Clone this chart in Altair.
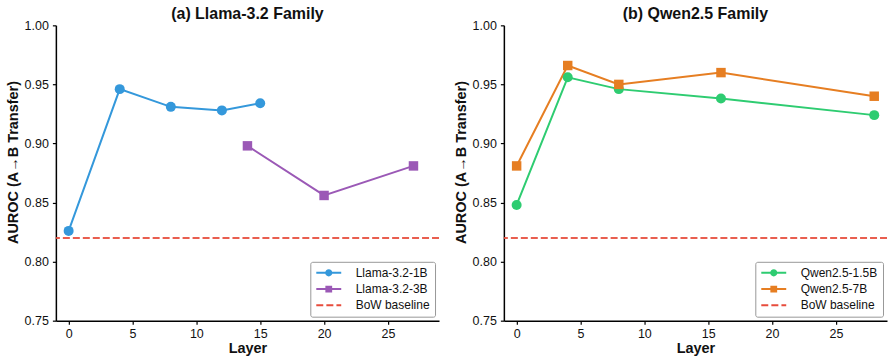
import altair as alt
import pandas as pd

# ---------------- data ----------------
llama_1b_layers = [0, 4, 8, 12, 15]
llama_1b_auroc = [0.826, 0.946, 0.931, 0.928, 0.934]
llama_3b_layers = [14, 20, 27]
llama_3b_auroc = [0.898, 0.856, 0.881]

qwen_15b_layers = [0, 4, 8, 16, 28]
qwen_15b_auroc = [0.848, 0.956, 0.946, 0.938, 0.924]
qwen_7b_layers = [0, 4, 8, 16, 28]
qwen_7b_auroc = [0.881, 0.966, 0.950, 0.960, 0.940]

bow_baseline = 0.82
x_ticks = [0, 5, 10, 15, 20, 25]
y_ticks = [0.75, 0.80, 0.85, 0.90, 0.95, 1.00]

FONT = "Liberation Sans"
RED = "#e74c3c"

# legend symbols (custom paths: line + marker)
circle_sym = ("M-3.125,-0.25 H-0.8 V0.25 H-3.125 Z "
              "M0.8,-0.25 H3.125 V0.25 H0.8 Z "
              "M0.9,0 A0.9,0.9 0 1,1 -0.9,0 A0.9,0.9 0 1,1 0.9,0 Z")
square_sym = ("M-3.125,-0.25 H-0.85 V0.25 H-3.125 Z "
              "M0.85,-0.25 H3.125 V0.25 H0.85 Z "
              "M-0.85,-0.85 H0.85 V0.85 H-0.85 Z")
dash_sym = ("M-3.125,-0.25 H-1.375 V0.25 H-3.125 Z "
            "M-0.6,-0.25 H1.15 V0.25 H-0.6 Z "
            "M1.925,-0.25 H3.125 V0.25 H1.925 Z")


def panel(title, s1, l1, v1, c1, s2, l2, v2, c2):
    df = pd.DataFrame({
        "series": [s1] * len(l1) + [s2] * len(l2),
        "layer": l1 + l2,
        "auroc": v1 + v2,
    })
    domain = [s1, s2, "BoW baseline"]
    cscale = alt.Scale(domain=domain, range=[c1, c2, RED])
    x = alt.X("layer:Q",
              scale=alt.Scale(domain=[-1, 29], nice=False, zero=False),
              axis=alt.Axis(values=x_ticks, title="Layer"))
    y = alt.Y("auroc:Q",
              scale=alt.Scale(domain=[0.75, 1.0], nice=False, zero=False),
              axis=alt.Axis(values=y_ticks, format=".2f", titleY=137,
                            title="AUROC (A\u2192B Transfer)"))
    base = alt.Chart(df)
    d1 = base.transform_filter(alt.datum.series == s1)
    d2 = base.transform_filter(alt.datum.series == s2)
    line1 = d1.mark_line(strokeWidth=2, color=c1).encode(x=x, y=y)
    line2 = d2.mark_line(strokeWidth=2, color=c2).encode(x=x, y=y)
    pts1 = d1.mark_point(shape="circle", filled=True, size=100, opacity=1,
                         color=c1).encode(x=x, y=y)
    pts2 = d2.mark_point(shape="square", filled=True, size=90, opacity=1,
                         color=c2).encode(x=x, y=y)
    rule = alt.Chart(pd.DataFrame({"auroc": [bow_baseline]})).mark_rule(
        color=RED, strokeDash=[7, 3], strokeWidth=2, opacity=0.9).encode(
        y=alt.Y("auroc:Q"))
    leg = alt.Legend(title=None, orient="bottom-right", offset=4, padding=5,
                     fillColor="white", strokeColor="#999999", cornerRadius=2,
                     symbolSize=64, symbolOffset=7.5, labelOffset=21,
                     symbolStrokeWidth=0, symbolOpacity=1,
                     labelFontSize=12, labelFont=FONT,
                     labelColor="#111111", rowPadding=4.3, labelLimit=300)
    legend_layer = base.mark_point(filled=True, opacity=0).encode(
        x=x, y=y,
        color=alt.Color("series:N", scale=cscale, legend=leg),
        shape=alt.Shape("series:N",
                        scale=alt.Scale(domain=domain,
                                        range=[circle_sym, square_sym, dash_sym]),
                        legend=leg))
    return alt.layer(line1, line2, rule, pts1, pts2, legend_layer).properties(
        width=384, height=296,
        title=alt.TitleParams(title, fontSize=16, fontWeight="bold", font=FONT,
                              anchor="middle", frame="group", offset=-3,
                              color="#111111"))


left = panel("(a) Llama-3.2 Family",
             "Llama-3.2-1B", llama_1b_layers, llama_1b_auroc, "#3498db",
             "Llama-3.2-3B", llama_3b_layers, llama_3b_auroc, "#9b59b6")
right = panel("(b) Qwen2.5 Family",
              "Qwen2.5-1.5B", qwen_15b_layers, qwen_15b_auroc, "#2ecc71",
              "Qwen2.5-7B", qwen_7b_layers, qwen_7b_auroc, "#e67e22")

chart = alt.hconcat(left, right, spacing=13).resolve_scale(
    color="independent", shape="independent"
).resolve_legend(color="independent", shape="independent").properties(
    padding={"left": 5, "top": 6, "right": 0, "bottom": 0}
).configure_view(stroke=None).configure_axis(
    grid=False, domainColor="black", domainWidth=1.5, tickColor="black",
    tickSize=3.5, tickWidth=1.2, labelFont=FONT, labelFontSize=12.5,
    labelColor="#111111", titleFont=FONT, titleFontSize=14.5,
    titleFontWeight="bold", titleColor="#111111"
).configure_axisY(titlePadding=4, labelPadding=4).configure_axisX(
    titlePadding=2, labelPadding=3)

chart.save("out.html", embed_options={"renderer": "svg", "actions": False})
